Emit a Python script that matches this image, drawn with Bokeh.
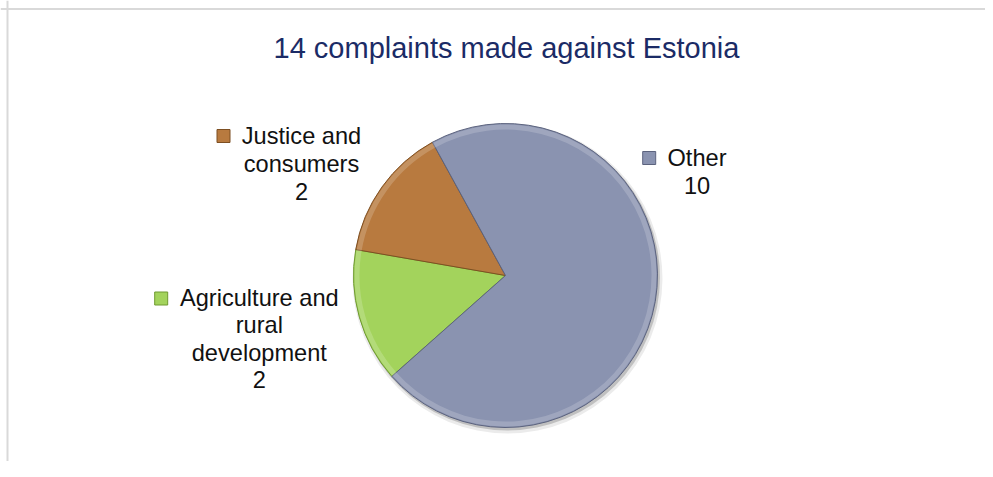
from math import pi
from bokeh.plotting import figure
from bokeh.models import Range1d, ColumnDataSource, Span
from bokeh.core.properties import value
from bokeh.embed import file_html
from bokeh.resources import INLINE

# ---- data ----
title_text = "14 complaints made against Estonia"
categories = ["Agriculture and rural development", "Justice and consumers", "Other"]
counts = [2, 2, 10]
colors = ["#a3d35c", "#b87a3f", "#8a93b0"]
edge_colors = ["#6f9a30", "#7d4f22", "#5c637e"]
label_lines = [["Agriculture and", "rural", "development"],
               ["Justice and", "consumers"],
               ["Other"]]

# ---- layout (pixel-like data space) ----
W, H = 985, 461
FONT = "Liberation Sans"
cx, cy, R = 505, 186, 152
start_deg = 221.6          # first slice starts here, drawn clockwise
dy_txt = 8.5               # rendering offset correction for text baselines
label_anchor = [(258.8, 155.3 + dy_txt), (301, 316.7 + dy_txt), (696.5, 295 + dy_txt)]
marker_pos = [(160.7, 163), (223, 325.5), (648.7, 303.5)]
line_step = 27.4

p = figure(width=W, height=H, output_backend="svg", toolbar_location=None,
           x_range=Range1d(0, W), y_range=Range1d(0, H),
           x_axis_location=None, y_axis_location=None, min_border=0)
p.grid.visible = False
p.outline_line_color = None
p.background_fill_color = "white"
p.border_fill_color = "white"

# chart-area border (top and left edges visible in the reference)
p.add_layout(Span(location=H - 8.5, dimension="width", line_color="#d9d9d9", line_width=2))
p.add_layout(Span(location=7, dimension="height", line_color="#d9d9d9", line_width=2))

total = sum(counts)
starts, ends = [], []
a = start_deg
for c in counts:
    starts.append(a * pi / 180)
    a -= c / total * 360
    ends.append(a * pi / 180)

src = ColumnDataSource(dict(start=starts, end=ends, color=colors, edge=edge_colors))

# soft shadow
p.circle(x=cx + 2, y=cy - 3, radius=R + 3, fill_color="#000000", fill_alpha=0.08, line_color=None)
p.circle(x=cx + 1.5, y=cy - 2, radius=R + 1, fill_color="#000000", fill_alpha=0.18, line_color=None)

p.wedge(x=cx, y=cy, radius=R, start_angle="start", end_angle="end", direction="clock",
        fill_color="color", line_color="edge", line_width=1, source=src)
# bevel highlight on the rim
p.annular_wedge(x=cx, y=cy, inner_radius=R - 6, outer_radius=R - 1, start_angle="start",
                end_angle="end", direction="clock", fill_color="white", fill_alpha=0.18,
                line_color=None, source=src)

# title
p.text(x=[506], y=[405.3 + dy_txt], text=[title_text], text_font=value(FONT), text_font_size="29px",
       text_color="#1b2b66", text_align="center", text_baseline="alphabetic")

# labels
xs, ys, ts = [], [], []
for lines, (lx, ly), n in zip(label_lines, label_anchor, counts):
    for i, t in enumerate(lines + [str(n)]):
        xs.append(lx)
        ys.append(ly - i * line_step)
        ts.append(t)
p.text(x=xs, y=ys, text=ts, text_font=value(FONT), text_font_size="23.6px",
       text_color="#111111", text_align="center", text_baseline="alphabetic")

p.scatter(x=[m[0] for m in marker_pos], y=[m[1] for m in marker_pos], marker="square",
          size=13, fill_color=colors, line_color=edge_colors, line_width=1)

open("out.html", "w").write(file_html(p, INLINE))
